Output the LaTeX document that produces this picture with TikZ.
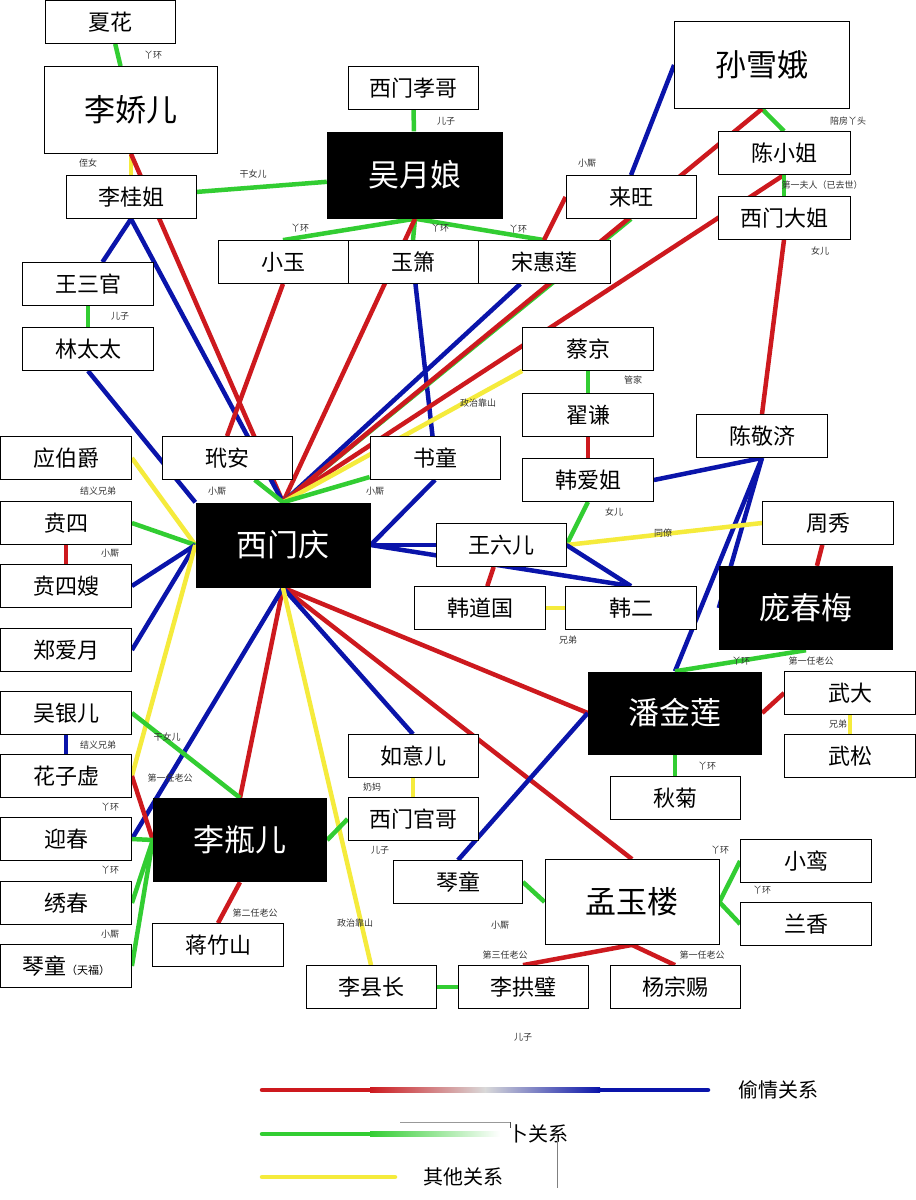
\documentclass[tikz,border=0pt]{standalone}
\usepackage{fontspec}
\setmainfont{Noto Sans CJK SC}
\pgfdeclarelayer{back}
\pgfdeclarelayer{bg}
\pgfsetlayers{back,bg,main}
\definecolor{rd}{RGB}{205,25,30}
\definecolor{bl}{RGB}{10,20,170}
\definecolor{gr}{RGB}{50,205,50}
\definecolor{yl}{RGB}{245,235,60}
\begin{document}
\begin{tikzpicture}[x=1pt,y=-1pt,
 box/.style={draw, fill=white, line width=0.8pt, minimum width=130pt, minimum height=43pt, inner sep=0pt, font=\fontsize{22}{22}\selectfont},
 bigbox/.style={box, minimum width=174pt, minimum height=86pt, font=\fontsize{31}{31}\selectfont},
 blk/.style={fill=black, text=white, minimum width=175pt, minimum height=85pt, inner sep=0pt, font=\fontsize{31}{31}\selectfont},
 lab/.style={font=\fontsize{9}{9}\selectfont, text=black!80, inner sep=0pt},
 er/.style={draw=rd, line width=4.5pt},
 eb/.style={draw=bl, line width=4.5pt},
 eg/.style={draw=gr, line width=4.5pt},
 ey/.style={draw=yl, line width=4.5pt}]
\useasboundingbox (0,0) rectangle (916,1200);
\begin{pgfonlayer}{back}
\fill[white] (0,0) rectangle (916,1200);
\end{pgfonlayer}
% nodes
\node[box] (xiahua) at (110,22) {夏花};
\node[bigbox, minimum width=173pt, minimum height=87pt] (lijiaoer) at (131,110) {李娇儿};
\node[box] (xmxg) at (413,88) {西门孝哥};
\node[blk, minimum width=176pt, minimum height=87pt] (wyn) at (415,175) {吴月娘};
\node[bigbox, minimum width=175pt, minimum height=87pt] (sxe) at (762,65) {孙雪娥};
\node[box, minimum width=132pt] (cxj) at (784,153) {陈小姐};
\node[box, minimum width=132pt] (xmdj) at (784,218) {西门大姐};
\node[box] (laiwang) at (631,197) {来旺};
\node[box] (liguijie) at (131,197) {李桂姐};
\node[box] (xiaoyu) at (283,262) {小玉};
\node[box] (yuxiao) at (413,262) {玉箫};
\node[box, minimum width=132pt] (shl) at (544,262) {宋惠莲};
\node[box, minimum width=131pt] (wsg) at (88,284) {王三官};
\node[box, minimum width=131pt] (ltt) at (88,349) {林太太};
\node[box, minimum width=131pt] (caijing) at (588,349) {蔡京};
\node[box, minimum width=131pt] (zhaiqian) at (588,415) {翟谦};
\node[box, minimum width=131pt] (haj) at (588,480) {韩爱姐};
\node[box, minimum width=131pt] (cjj) at (762,436) {陈敬济};
\node[box, minimum width=131pt] (ybj) at (66,458) {应伯爵};
\node[box] (daian) at (227,458) {玳安};
\node[box] (shutong) at (435,458) {书童};
\node[blk] (xmq) at (283,545) {西门庆};
\node[box, minimum width=131pt] (bensi) at (66,523) {贲四};
\node[box, minimum width=131pt] (bssao) at (66,586) {贲四嫂};
\node[box, minimum width=131pt] (zay) at (66,650) {郑爱月};
\node[box] (wle) at (501,545) {王六儿};
\node[box, minimum width=131pt] (zhouxiu) at (828,523) {周秀};
\node[box, minimum width=131pt] (hdg) at (480,608) {韩道国};
\node[box, minimum width=131pt] (haner) at (631,608) {韩二};
\node[blk, minimum width=174pt, minimum height=84pt] (pcm) at (806,608) {庞春梅};
\node[blk, minimum width=174pt, minimum height=83pt] (pjl) at (675,713) {潘金莲};
\node[box, minimum width=131pt] (wuda) at (850,693) {武大};
\node[box, minimum width=131pt] (wusong) at (850,756) {武松};
\node[box, minimum width=131pt] (wye) at (66,713) {吴银儿};
\node[box, minimum width=131pt] (hzx) at (66,776) {花子虚};
\node[box] (rye) at (413,756) {如意儿};
\node[box] (xmgg) at (413,819) {西门官哥};
\node[box] (qiuju) at (675,798) {秋菊};
\node[box, minimum width=131pt] (yingchun) at (66,839) {迎春};
\node[blk, minimum width=174pt, minimum height=84pt] (lpe) at (240,840) {李瓶儿};
\node[box, minimum width=129pt] (qintong) at (458,882) {琴童};
\node[bigbox, minimum width=174pt, minimum height=85pt] (myl) at (632,902) {孟玉楼};
\node[box, minimum width=131pt] (xiaoluan) at (806,861) {小鸾};
\node[box, minimum width=131pt] (lanxiang) at (806,924) {兰香};
\node[box, minimum width=131pt] (xiuchun) at (66,903) {绣春};
\node[box, minimum width=131pt] (qttf) at (66,966) {琴童{\fontsize{11}{11}\selectfont（天福）}};
\node[box, minimum width=131pt] (jzs) at (218,945) {蒋竹山};
\node[box] (lxz) at (371,987) {李县长};
\node[box] (lgb) at (523,987) {李拱璧};
\node[box] (yzc) at (675,987) {杨宗赐};
% edges
\begin{pgfonlayer}{bg}
\path[eg] (xiahua) -- (lijiaoer);
\path[ey] (lijiaoer.south) -- (liguijie);
\path[er] (lijiaoer.south) -- (xmq.north);
\path[eg] (liguijie) -- (wyn);
\path[eb] (liguijie.south) -- (xmq.north);
\path[eb] (liguijie.south) -- (wsg);
\path[eg] (wsg) -- (ltt);
\path[eb] (ltt.south) -- (xmq.north west);
\path[eg] (xmxg) -- (wyn);
\path[eg] (wyn.south) -- (xiaoyu.north);
\path[eg] (wyn.south) -- (yuxiao.north);
\path[eg] (wyn.south) -- (shl.north);
\path[er] (wyn.south) -- (xmq.north);
\path[er] (xiaoyu.south) -- (daian.north);
\path[eb] (yuxiao) -- (shutong);
\path[eb] (shl) -- (xmq.north);
\path[er] (laiwang.west) -- (shl.north);
\path[eb] (laiwang.north) -- (sxe.west);
\path[eg] (laiwang.south) -- (xmq.north);
\path[eg] (sxe.south) -- (cxj.north);
\path[er] (sxe.south) -- (xmq.north);
\path[er] (cxj.south) -- (xmq.north);
\path[eg] (cxj) -- (xmdj);
\path[er] (xmdj.south) -- (cjj.north);
\path[ey] (caijing.south west) -- (xmq.north);
\path[eg] (caijing) -- (zhaiqian);
\path[er] (zhaiqian) -- (haj);
\path[eg] (haj.south) -- (wle.east);
\path[eb] (cjj.south) -- (haj.east);
\path[eb] (cjj.south) -- (pjl.north);
\path[eb] (cjj.south) -- (pcm.west);
\path[ey] (wle.east) -- (zhouxiu.west);
\path[er] (zhouxiu) -- (pcm);
\path[eb] (xmq.east) -- (wle.west);
\path[eb] (xmq.east) -- (haner.north);
\path[eb] (wle.east) -- (haner.north);
\path[er] (wle) -- (hdg);
\path[ey] (hdg) -- (haner);
\path[eg] (pcm.south) -- (pjl.north);
\path[er] (pjl.east) -- (wuda.west);
\path[ey] (wuda) -- (wusong);
\path[eg] (pjl) -- (qiuju);
\path[er] (xmq.south) -- (pjl.west);
\path[er] (xmq.south) -- (myl.north);
\path[eb] (xmq.south) -- (rye.north);
\path[er] (xmq.south) -- (lpe.north);
\path[eb] (xmq.south) -- (yingchun.east);
\path[ey] (xmq.south) -- (lxz.north);
\path[eb] (pjl.west) -- (qintong.north);
\path[eg] (qintong.east) -- (myl.west);
\path[eg] (myl.east) -- (xiaoluan.west);
\path[eg] (myl.east) -- (lanxiang.west);
\path[er] (myl.south) -- (lgb.north);
\path[er] (myl.south) -- (yzc.north);
\path[eg] (lxz) -- (lgb);
\path[ey] (rye) -- (xmgg);
\path[eg] (xmgg.west) -- (lpe.east);
\path[ey] (ybj.east) -- (xmq.west);
\path[eg] (bensi.east) -- (xmq.west);
\path[er] (bensi) -- (bssao);
\path[eb] (bssao.east) -- (xmq.west);
\path[eb] (zay.east) -- (xmq.west);
\path[ey] (hzx.east) -- (xmq.west);
\path[eg] (wye.east) -- (lpe.north);
\path[eb] (wye) -- (hzx);
\path[er] (hzx.east) -- (lpe.west);
\path[eg] (yingchun.east) -- (lpe.west);
\path[eg] (xiuchun.east) -- (lpe.west);
\path[eg] (qttf.east) -- (lpe.west);
\path[er] (lpe.south) -- (jzs.north);
\path[eg] (daian) -- (xmq.north);
\path[eg] (shutong) -- (xmq.north);
\path[eb] (shutong.south) -- (xmq.east);
\end{pgfonlayer}
% labels
\node[lab] at (153,55) {丫环};
\node[lab] at (88,163) {侄女};
\node[lab] at (253,174) {干女儿};
\node[lab] at (446,121) {儿子};
\node[lab] at (300,228) {丫环};
\node[lab] at (440,228) {丫环};
\node[lab] at (518,229) {丫环};
\node[lab] at (587,163) {小厮};
\node[lab] at (848,121) {陪房丫头};
\node[lab] at (822,185) {第一夫人（已去世）};
\node[lab] at (820,251) {女儿};
\node[lab] at (120,316) {儿子};
\node[lab] at (633,380) {管家};
\node[lab] at (478,403) {政治靠山};
\node[lab] at (614,512) {女儿};
\node[lab] at (663,533) {同僚};
\node[lab] at (98,491) {结义兄弟};
\node[lab] at (217,491) {小厮};
\node[lab] at (375,491) {小厮};
\node[lab] at (110,553) {小厮};
\node[lab] at (568,640) {兄弟};
\node[lab] at (741,661) {丫环};
\node[lab] at (811,661) {第一任老公};
\node[lab] at (838,724) {兄弟};
\node[lab] at (707,766) {丫环};
\node[lab] at (98,745) {结义兄弟};
\node[lab] at (167,737) {干女儿};
\node[lab] at (170,778) {第一任老公};
\node[lab] at (372,787) {奶妈};
\node[lab] at (380,850) {儿子};
\node[lab] at (110,807) {丫环};
\node[lab] at (110,870) {丫环};
\node[lab] at (110,934) {小厮};
\node[lab] at (255,913) {第二任老公};
\node[lab] at (355,923) {政治靠山};
\node[lab] at (500,925) {小厮};
\node[lab] at (720,850) {丫环};
\node[lab] at (762,890) {丫环};
\node[lab] at (505,955) {第三任老公};
\node[lab] at (702,955) {第一任老公};
\node[lab] at (523,1037) {儿子};
% legend
\coordinate (l1a) at (262,1090); \coordinate (l1b) at (370,1090);
\coordinate (l1c) at (600,1090); \coordinate (l1d) at (708,1090);
\draw[rd, line width=4.5pt, line cap=round] (l1a) -- (l1b);
\shade[left color=rd, right color=bl, middle color=white!85!black] (370,1087.75) rectangle (600,1092.25);
\draw[bl, line width=4.5pt, line cap=round] (l1c) -- (l1d);
\node[font=\fontsize{20}{20}\selectfont, anchor=west] (t1) at (735,1090) {偷情关系};
\coordinate (l2a) at (262,1134); \coordinate (l2b) at (370,1134);
\draw[gr, line width=4.5pt, line cap=round] (l2a) -- (l2b);
\shade[left color=gr, right color=white] (370,1131.75) rectangle (500,1136.25);
\draw[black!40, line width=1pt] (400,1122) -- (510,1122);
\draw[black!70, line width=1pt] (510,1122) -- (510,1128);
\node[font=\fontsize{20}{20}\selectfont, anchor=west] (t2) at (505,1134) {卜关系};
\draw[black!50, line width=1pt] (557,1140) -- (557,1188);
\coordinate (l3a) at (262,1177); \coordinate (l3b) at (395,1177);
\draw[yl, line width=4.5pt, line cap=round] (l3a) -- (l3b);
\node[font=\fontsize{20}{20}\selectfont, anchor=west] (t3) at (420,1177) {其他关系};
\end{tikzpicture}
\end{document}
